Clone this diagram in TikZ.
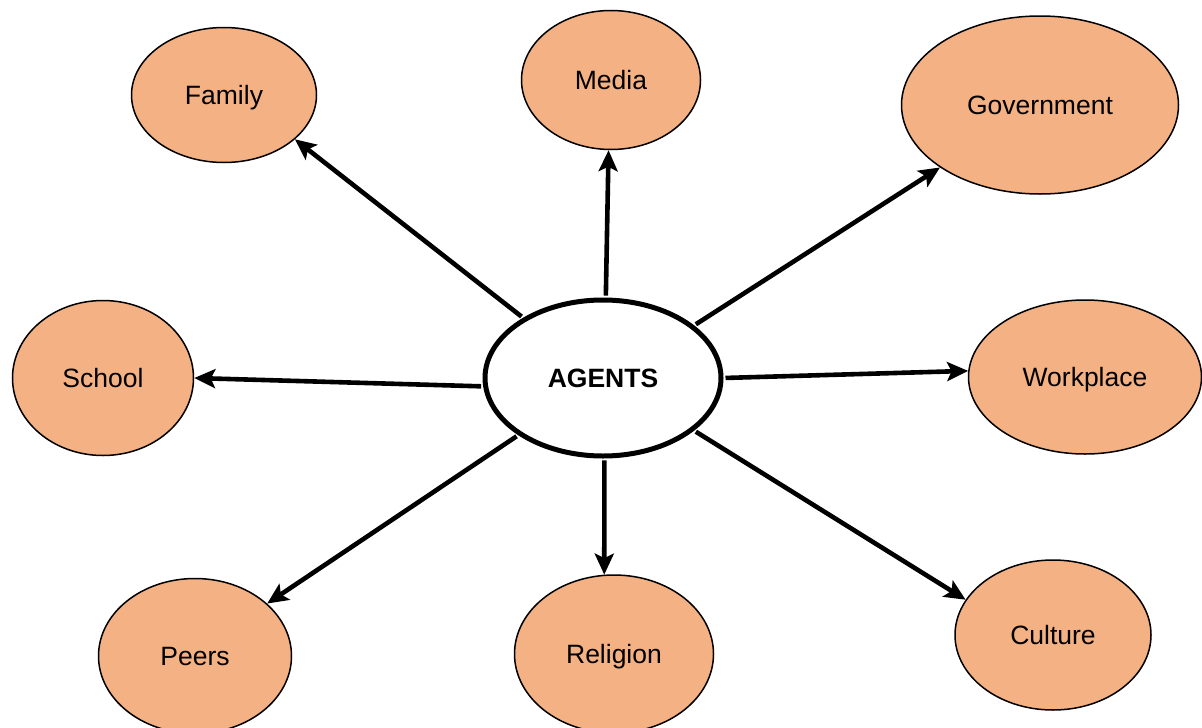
\documentclass[tikz,border=0pt]{standalone}
\usepackage{fontspec}
\setmainfont{Liberation Sans}
\usetikzlibrary{shapes.geometric,arrows.meta}
\definecolor{agentfill}{HTML}{F4B183}
\begin{document}
\begin{tikzpicture}[x=1pt,y=-1pt,
  lbl/.style={inner sep=0pt,text height=19pt,text depth=0pt,
    font=\fontsize{26.5}{30}\selectfont},
  sat/.style={ellipse,draw=black,line width=1.5pt,fill=agentfill,lbl},
  hub/.style={ellipse,draw=black,line width=5pt,fill=white,lbl,
    font=\fontsize{26.5}{30}\selectfont\bfseries},
  link/.style={line width=4.6pt,shorten <=2pt,
    -{Stealth[length=21pt,width=19pt,inset=4.5pt]}}]
\useasboundingbox (0,0) rectangle (1202,728);

% central node
\node[hub,minimum width=236pt,minimum height=156pt] (agents) at (603,378) {AGENTS};

% surrounding agents
\node[sat,minimum width=185pt,minimum height=135pt] (family) at (224,95) {Family};
\node[sat,minimum width=179pt,minimum height=139pt] (media) at (611,80) {Media};
\node[sat,minimum width=277pt,minimum height=178pt] (gov) at (1040,105) {Government};
\node[sat,minimum width=181pt,minimum height=155pt] (school) at (103,378) {School};
\node[sat,minimum width=233pt,minimum height=154pt] (work) at (1085,377) {Workplace};
\node[sat,minimum width=193pt,minimum height=155pt] (peers) at (195,656) {Peers};
\node[sat,minimum width=199pt,minimum height=158pt] (religion) at (614,654) {Religion};
\node[sat,minimum width=196pt,minimum height=150pt] (culture) at (1053,635) {Culture};

% connectors from the centre
\draw[link] (agents.143) -- (family.328);
\draw[link] (agents.88) -- (media.268);
\draw[link] (agents.30) -- (gov.212);
\draw[link] (agents.184) -- (school.0);
\draw[link] (agents.0) -- (work.177);
\draw[link] (agents.214) -- (peers.36);
\draw[link] (agents.271) -- (religion.97);
\draw[link] (agents.330) -- (culture.158);
\end{tikzpicture}
\end{document}
